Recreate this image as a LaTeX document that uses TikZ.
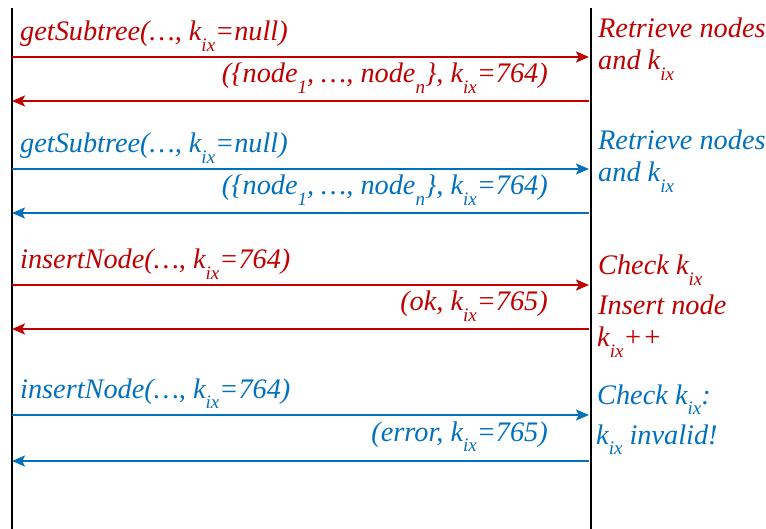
\documentclass[tikz,border=0pt]{standalone}
\usepackage{fontspec}
\setmainfont{Liberation Serif}
\usetikzlibrary{arrows.meta}
\definecolor{myred}{RGB}{192,0,0}
\definecolor{myblue}{RGB}{0,112,192}
\newcommand{\sbx}[1]{\raisebox{-0.38em}{\fontsize{19}{21}\selectfont #1}}
\newcommand{\kx}{k\sbx{ix}}
\tikzset{
  txt/.style={inner sep=0pt,font=\fontsize{28.3}{33}\selectfont\itshape},
  lab/.style={txt,anchor=base west},
  ret/.style={txt,anchor=base east},
  side/.style={txt,anchor=base west},
  msg/.style={line width=2pt,-{Stealth[length=13pt,width=11pt,inset=3pt]}},
  life/.style={line width=2.6pt,black},
}
\begin{document}
\begin{tikzpicture}[x=1pt,y=-1pt]
\useasboundingbox (0,0) rectangle (766,529);
% lifelines
\coordinate (Ltop) at (12,8);
\coordinate (Lbot) at (12,529);
\coordinate (Rtop) at (591,8);
\coordinate (Rbot) at (591,529);
\draw[life] (Ltop) -- (Lbot);
\draw[life] (Rtop) -- (Rbot);
% message endpoints
\foreach \n/\y in {a/57,b/101,c/169,d/213,e/285,f/329,g/415,h/461}{
  \coordinate (\n L) at (12,\y);
  \coordinate (\n R) at (589,\y);
}
% row 1
\node[lab,text=myred] (l1) at (20,41) {getSubtree(…, \kx=null)};
\draw[msg,myred] (aL) -- (aR);
\node[ret,text=myred] (r1) at (548,83) {(\{node\sbx{1}, …, node\sbx{n}\}, \kx=764)};
\draw[msg,myred] (bR) -- (bL);
\node[side,text=myred] (s1a) at (598,38) {Retrieve nodes};
\node[side,text=myred] (s1b) at (598,70) {and \kx};
% row 2
\node[lab,text=myblue] (l2) at (20,153) {getSubtree(…, \kx=null)};
\draw[msg,myblue] (cL) -- (cR);
\node[ret,text=myblue] (r2) at (548,195) {(\{node\sbx{1}, …, node\sbx{n}\}, \kx=764)};
\draw[msg,myblue] (dR) -- (dL);
\node[side,text=myblue] (s2a) at (598,150) {Retrieve nodes};
\node[side,text=myblue] (s2b) at (598,182) {and \kx};
% row 3
\node[lab,text=myred] (l3) at (20,269) {insertNode(…, \kx=764)};
\draw[msg,myred] (eL) -- (eR);
\node[ret,text=myred] (r3) at (548,311) {(ok, \kx=765)};
\draw[msg,myred] (fR) -- (fL);
\node[side,text=myred] (s3a) at (598,275) {Check \kx};
\node[side,text=myred] (s3b) at (598,315) {Insert node};
\node[side,text=myred] (s3c) at (597,347) {\kx++};
% row 4
\node[lab,text=myblue] (l4) at (20,398) {insertNode(…, \kx=764)};
\draw[msg,myblue] (gL) -- (gR);
\node[ret,text=myblue] (r4) at (548,441) {(error, \kx=765)};
\draw[msg,myblue] (hR) -- (hL);
\node[side,text=myblue] (s4a) at (597,404) {Check \kx:};
\node[side,text=myblue] (s4b) at (596,444) {\kx\ invalid!};
\end{tikzpicture}
\end{document}
